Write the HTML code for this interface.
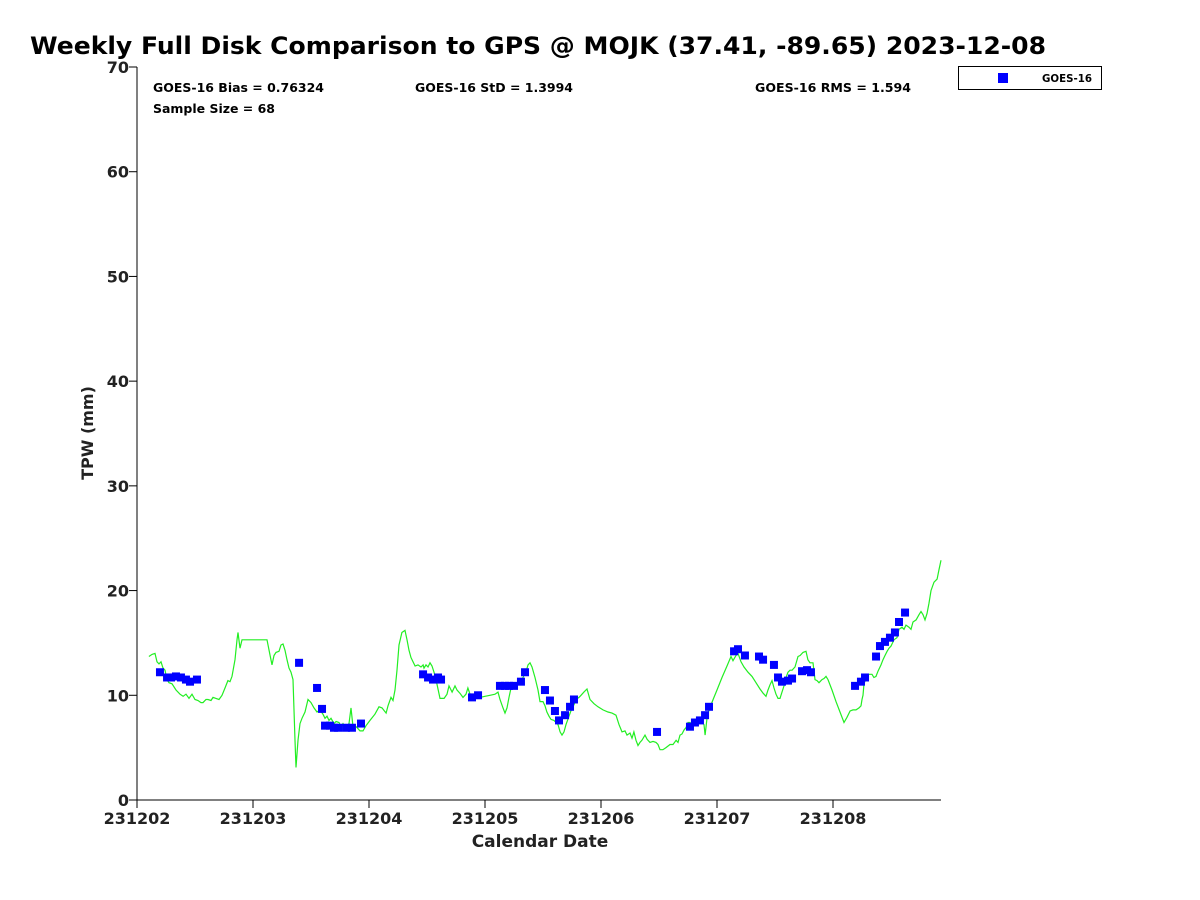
<!DOCTYPE html>
<html><head><meta charset="utf-8"><style>
body{margin:0;background:#fff;}
svg{display:block;font-family:"DejaVu Sans","Liberation Sans",sans-serif;}
</style></head><body>
<svg id="chart" width="1200" height="900" viewBox="0 0 1200 900">
<rect width="1200" height="900" fill="#fff"/>
<text x="30" y="54" font-size="24" font-weight="bold" fill="#000" textLength="1016" lengthAdjust="spacingAndGlyphs">Weekly Full Disk Comparison to GPS @ MOJK (37.41, -89.65) 2023-12-08</text>
<g id="axes"></g>
<g id="series"></g>
<text x="153" y="92" font-size="12" font-weight="bold" textLength="171" lengthAdjust="spacingAndGlyphs">GOES-16 Bias = 0.76324</text>
<text x="415" y="92" font-size="12" font-weight="bold" textLength="158" lengthAdjust="spacingAndGlyphs">GOES-16 StD = 1.3994</text>
<text x="755" y="92" font-size="12" font-weight="bold" textLength="156" lengthAdjust="spacingAndGlyphs">GOES-16 RMS = 1.594</text>
<text x="153" y="113" font-size="12" font-weight="bold" textLength="122" lengthAdjust="spacingAndGlyphs">Sample Size = 68</text>
<g>
<rect x="958.5" y="66.5" width="143" height="23" fill="#fff" stroke="#000" stroke-width="1"/>
<rect x="998" y="73" width="10" height="10" fill="#0000ff"/>
<text x="1042" y="82" font-size="11" font-weight="bold" textLength="50" lengthAdjust="spacingAndGlyphs">GOES-16</text>
</g>
<text x="540" y="847" text-anchor="middle" font-size="17" font-weight="bold" fill="#222">Calendar Date</text>
<text transform="translate(93,433) rotate(-90)" text-anchor="middle" font-size="16" font-weight="bold" fill="#222">TPW (mm)</text>
</svg>
<script>
const xTickLabels = ["231202","231203","231204","231205","231206","231207","231208"];
const yTickValues = [0,10,20,30,40,50,60,70];
const lineDay = [.103,.129,.155,.172,.190,.207,.224,.241,.259,.276,.302,.336,.371,.397,.422,.448,.474,.5,.526,.552,.569,.595,.612,.638,.655,.681,.707,.733,.759,.784,.802,.819,.845,.862,.871,.888,.905,.974,1.043,1.121,1.147,1.164,1.181,1.198,1.224,1.241,1.259,1.276,1.293,1.310,1.328,1.345,1.362,1.371,1.388,1.405,1.422,1.448,1.474,1.5,1.526,1.552,1.578,1.603,1.621,1.638,1.655,1.672,1.698,1.716,1.741,1.759,1.776,1.793,1.810,1.828,1.845,1.862,1.879,1.897,1.922,1.948,1.974,2.009,2.052,2.086,2.112,2.147,2.164,2.190,2.207,2.224,2.241,2.259,2.284,2.310,2.328,2.345,2.362,2.379,2.397,2.422,2.448,2.466,2.474,2.491,2.509,2.526,2.543,2.560,2.578,2.612,2.647,2.672,2.690,2.716,2.741,2.759,2.784,2.810,2.836,2.853,2.871,2.897,2.922,2.957,3.0,3.043,3.086,3.112,3.129,3.155,3.172,3.190,3.207,3.224,3.241,3.267,3.293,3.319,3.336,3.353,3.371,3.388,3.405,3.431,3.457,3.474,3.5,3.517,3.534,3.552,3.569,3.595,3.612,3.629,3.647,3.664,3.681,3.698,3.724,3.75,3.767,3.784,3.810,3.828,3.853,3.879,3.905,3.940,3.974,4.017,4.060,4.095,4.129,4.155,4.181,4.207,4.224,4.250,4.267,4.284,4.302,4.319,4.336,4.353,4.379,4.397,4.422,4.448,4.474,4.491,4.509,4.534,4.560,4.595,4.621,4.647,4.664,4.681,4.698,4.716,4.733,4.750,4.767,4.784,4.802,4.828,4.853,4.871,4.888,4.897,4.914,4.931,4.966,5.0,5.043,5.086,5.121,5.138,5.164,5.181,5.207,5.233,5.267,5.302,5.336,5.371,5.397,5.422,5.440,5.457,5.474,5.491,5.509,5.526,5.543,5.560,5.578,5.595,5.612,5.629,5.647,5.672,5.698,5.716,5.741,5.767,5.784,5.802,5.828,5.845,5.862,5.879,5.905,5.922,5.940,5.957,5.991,6.026,6.060,6.095,6.121,6.147,6.172,6.198,6.224,6.241,6.25,6.259,6.267,6.284,6.310,6.336,6.353,6.371,6.388,6.414,6.431,6.448,6.466,6.483,6.5,6.526,6.552,6.569,6.595,6.612,6.629,6.655,6.672,6.690,6.716,6.741,6.759,6.776,6.793,6.810,6.828,6.845,6.871,6.897,6.914,6.931];
const lineVal = [13.7,13.9,14.0,13.2,13.0,13.2,12.6,12.4,11.5,11.2,11.1,10.5,10.1,9.9,10.1,9.7,10.1,9.6,9.5,9.3,9.3,9.6,9.6,9.5,9.8,9.7,9.6,10.0,10.7,11.4,11.3,11.8,13.4,15.3,16.0,14.5,15.3,15.3,15.3,15.3,13.8,12.9,13.8,14.1,14.2,14.8,14.9,14.3,13.4,12.6,12.2,11.5,5.7,3.1,5.7,7.3,7.8,8.4,9.6,9.3,8.8,8.4,8.6,8.2,7.8,8.0,7.6,7.8,7.3,7.5,7.4,7.0,7.3,7.0,6.9,7.3,8.8,7.0,7.1,6.9,6.6,6.6,7.1,7.6,8.2,8.9,8.8,8.3,9.0,9.8,9.5,10.5,12.4,14.8,16.0,16.2,15.3,14.3,13.6,13.2,12.8,12.9,12.7,12.9,12.6,12.9,12.7,13.1,12.8,12.2,11.5,9.7,9.7,10.1,10.9,10.3,10.9,10.5,10.2,9.8,10.1,10.7,10.1,9.8,9.8,9.8,9.9,10.0,10.1,10.3,9.6,8.8,8.3,8.8,9.8,10.7,10.9,11.1,11.3,11.5,11.9,12.2,12.9,13.1,12.7,11.7,10.5,9.4,9.4,9.0,8.4,8.0,7.7,7.6,7.4,7.2,6.5,6.2,6.5,7.2,8.0,8.8,9.1,9.6,9.8,10.0,10.3,10.6,9.6,9.2,8.9,8.6,8.4,8.3,8.1,7.2,6.5,6.6,6.2,6.4,5.9,6.5,5.7,5.2,5.5,5.7,6.2,5.8,5.5,5.6,5.5,5.3,4.8,4.8,5.0,5.3,5.3,5.7,5.5,6.2,6.3,6.7,6.9,7.4,7.4,7.2,7.3,7.4,7.6,7.4,7.2,6.2,7.8,8.6,9.6,10.5,11.7,12.8,13.7,13.3,13.8,14.0,13.2,12.7,12.2,11.8,11.2,10.6,10.2,9.9,10.5,11.0,11.4,10.7,10.1,9.7,9.7,10.3,10.9,11.7,12.2,12.4,12.4,12.7,13.7,13.8,14.1,14.2,13.4,13.1,13.1,11.5,11.4,11.2,11.5,11.6,11.8,11.5,10.5,9.4,8.4,7.4,7.9,8.5,8.6,8.6,8.8,9.0,9.6,10.0,11.1,11.6,12.0,12.0,11.7,11.8,12.3,12.9,13.4,13.8,14.2,14.5,14.7,15.3,15.5,16.3,16.5,16.3,16.7,16.5,16.3,17.0,17.2,17.7,18.0,17.7,17.2,17.8,18.8,20.0,20.8,21.1,22.0,22.9];
const ptDay = [.198,.259,.293,.336,.379,.422,.457,.517,1.397,1.552,1.595,1.621,1.664,1.698,1.733,1.802,1.853,1.931,2.466,2.509,2.552,2.595,2.621,2.888,2.940,3.129,3.172,3.207,3.25,3.310,3.345,3.517,3.560,3.603,3.638,3.690,3.733,3.767,4.483,4.767,4.810,4.853,4.897,4.931,5.147,5.181,5.241,5.362,5.397,5.491,5.526,5.560,5.612,5.647,5.733,5.776,5.810,6.190,6.241,6.276,6.371,6.405,6.448,6.491,6.534,6.569,6.621];
const ptVal = [12.2,11.7,11.7,11.8,11.7,11.5,11.3,11.5,13.1,10.7,8.7,7.1,7.1,6.9,6.9,6.9,6.9,7.3,12.0,11.7,11.5,11.7,11.5,9.8,10.0,10.9,10.9,10.9,10.9,11.3,12.2,10.5,9.5,8.5,7.6,8.1,8.9,9.6,6.5,7.0,7.4,7.6,8.1,8.9,14.2,14.4,13.8,13.7,13.4,12.9,11.7,11.3,11.4,11.6,12.3,12.4,12.2,10.9,11.3,11.7,13.7,14.7,15.1,15.5,16.0,17.0,17.9];

const X0=137, X1=941, Y0=800, Y1=67, DAYPX=116, VMAX=70;
const xs = d => X0 + d*DAYPX;
const ys = v => Y0 - v*(Y0-Y1)/VMAX;
const NS="http://www.w3.org/2000/svg";
const axes=document.getElementById('axes'), series=document.getElementById('series');
function mk(tag, attrs, parent){const e=document.createElementNS(NS,tag);for(const k in attrs)e.setAttribute(k,attrs[k]);parent.appendChild(e);return e;}

const yAxis=mk('line',{x1:X0,y1:Y1,x2:X0,y2:Y0,stroke:'#000','stroke-width':1},axes);


const xAxis=mk('line',{x1:X0,y1:Y0,x2:X1,y2:Y0,stroke:'#000','stroke-width':1},axes);


yTickValues.forEach(v=>{
  const t=mk('line',{x1:X0,y1:ys(v),x2:X0-8,y2:ys(v),stroke:'#000'},axes);
  
  
  const l=mk('text',{x:X0-8,y:ys(v)+6,'text-anchor':'end','font-size':16,'font-weight':'bold',fill:'#222'},axes);
  l.textContent=v;
  
  
});
xTickLabels.forEach((s,i)=>{
  const t=mk('line',{x1:xs(i),y1:Y0,x2:xs(i),y2:Y0+8,stroke:'#000'},axes);
  
  
  const l=mk('text',{x:xs(i),y:Y0+24,'text-anchor':'middle','font-size':16,'font-weight':'bold',fill:'#222'},axes);
  l.textContent=s;
  
  
});
const pts=lineDay.map((d,i)=>xs(d).toFixed(1)+','+ys(lineVal[i]).toFixed(1)).join(' ');
const gl=mk('polyline',{points:pts,fill:'none',stroke:'#22ee22','stroke-width':1.2},series);


ptDay.forEach((d,i)=>{
  const r=mk('rect',{x:xs(d)-4,y:ys(ptVal[i])-4,width:8,height:8,fill:'#0000ff'},series);
  
  
});
</script>
</body></html>
